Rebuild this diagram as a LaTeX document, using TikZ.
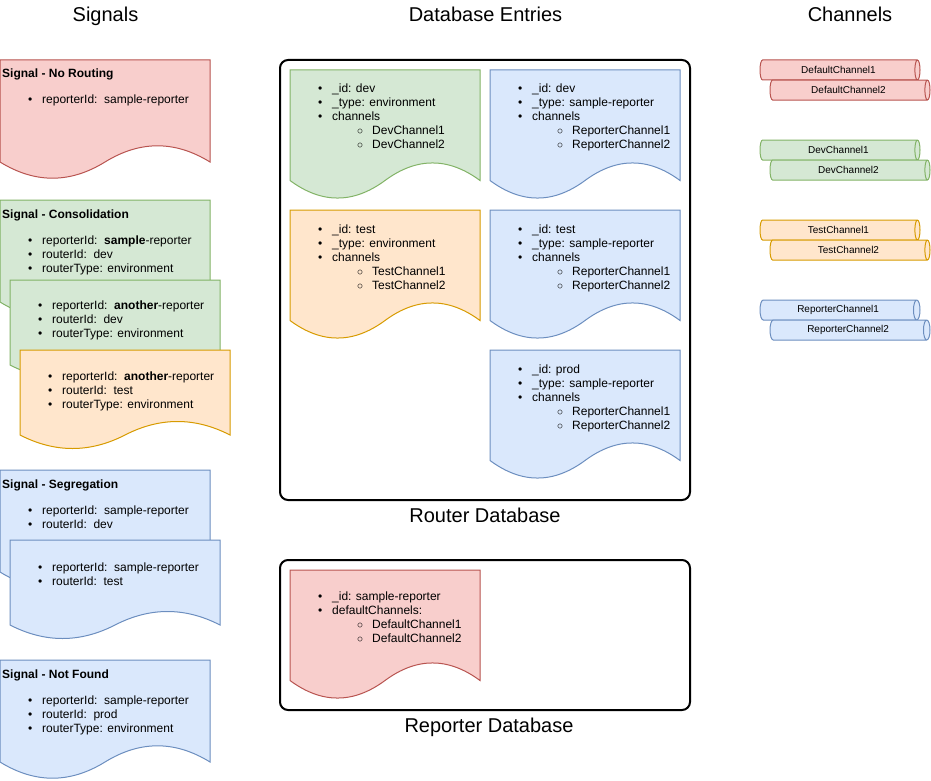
\documentclass[tikz,border=0pt]{standalone}
\usepackage{fontspec}
\setmainfont{Liberation Sans}
\usetikzlibrary{positioning,shapes.geometric}

\definecolor{redfill}{HTML}{F8CECC}
\definecolor{redline}{HTML}{B85450}
\definecolor{greenfill}{HTML}{D5E8D4}
\definecolor{greenline}{HTML}{82B366}
\definecolor{orangefill}{HTML}{FFE6CC}
\definecolor{orangeline}{HTML}{D79B00}
\definecolor{bluefill}{HTML}{DAE8FC}
\definecolor{blueline}{HTML}{6C8EBF}

\newcommand{\docshape}[5]{%
  \draw[#1, shift={(#2,#3)}, xscale=#4, yscale=#5] (0,0) -- (1,0) -- (1,0.85)
    .. controls (0.8333,0.67) and (0.6667,0.67) .. (0.5,0.85)
    .. controls (0.3333,1.03) and (0.1667,1.03) .. (0,0.85) -- cycle;}
\newcommand{\bul}{\makebox[14pt][l]{\textbullet}}
\newcommand{\subbul}{\hspace{39pt}\makebox[15pt][l]{$\circ$}}
\newcommand{\lines}[1]{\begin{tabular}[t]{@{}l@{}}#1\end{tabular}}

\begin{document}
\begin{tikzpicture}[
x=1pt, y=-1pt,
txt/.style={anchor=base west, inner sep=0pt, font=\fontsize{12}{14}\selectfont},
ttl/.style={txt, font=\fontsize{12}{14}\selectfont\bfseries},
head/.style={anchor=base, inner sep=0pt, font=\fontsize{20}{24}\selectfont},
reddoc/.style={draw=redline, fill=redfill, line width=1pt},
greendoc/.style={draw=greenline, fill=greenfill, line width=1pt},
orangedoc/.style={draw=orangeline, fill=orangefill, line width=1pt},
bluedoc/.style={draw=blueline, fill=bluefill, line width=1pt},
database/.style={draw, line width=2pt, rounded corners=8pt, minimum width=410pt, inner sep=0pt, outer sep=0pt},
channel/.style={cylinder, aspect=0.7, minimum height=160pt, minimum width=20pt, inner sep=0pt, outer sep=0pt, line width=1pt, font=\fontsize{10}{12}\selectfont},
redchan/.style={channel, draw=redline, fill=redfill},
greenchan/.style={channel, draw=greenline, fill=greenfill},
orangechan/.style={channel, draw=orangeline, fill=orangefill},
bluechan/.style={channel, draw=blueline, fill=bluefill},
]

\useasboundingbox (0,0) rectangle (931,781);

\node[head] (sighead) at (105.5,22) {Signals};
\node[head] (dbhead) at (485.5,22) {Database Entries};
\node[head] (chanhead) at (850,22) {Channels};

\docshape{reddoc}{0}{60}{210}{120}
\node[ttl] (routtl) at (2,78) {Signal - No Routing};
\node[txt] (roulst) at (28,104) {\lines{\bul reporterId:\ \ sample-reporter}};

\docshape{greendoc}{0}{200}{210}{120}
\node[ttl] (conttl) at (2,218) {Signal - Consolidation};
\node[txt] (conlsta) at (28,244) {\lines{\bul reporterId:\ \ \textbf{sample}-reporter\\ \bul routerId:\ \ dev\\ \bul routerType: environment}};
\docshape{greendoc}{10}{280}{210}{100}
\node[txt] (conlstb) at (38,309) {\lines{\bul reporterId:\ \ \textbf{another}-reporter\\ \bul routerId:\ \ dev\\ \bul routerType: environment}};
\docshape{orangedoc}{20}{350}{210}{100}
\node[txt] (conlstc) at (48,380) {\lines{\bul reporterId:\ \ \textbf{another}-reporter\\ \bul routerId:\ \ test\\ \bul routerType: environment}};

\docshape{bluedoc}{0}{470}{210}{120}
\node[ttl] (segttl) at (2,488) {Signal - Segregation};
\node[txt] (seglsta) at (28,514) {\lines{\bul reporterId:\ \ sample-reporter\\ \bul routerId:\ \ dev}};
\docshape{bluedoc}{10}{540}{210}{100}
\node[txt] (seglstb) at (38,571) {\lines{\bul reporterId:\ \ sample-reporter\\ \bul routerId:\ \ test}};

\docshape{bluedoc}{0}{660}{210}{120}
\node[ttl] (nfttl) at (2,678) {Signal - Not Found};
\node[txt] (nflst) at (28,704) {\lines{\bul reporterId:\ \ sample-reporter\\ \bul routerId:\ \ prod\\ \bul routerType: environment}};

\node[database, minimum height=440pt, anchor=north west] (routerdb) at (280,60) {};
\node[head] (routerlbl) [below=8pt of routerdb] {Router Database};
\node[database, minimum height=150pt, anchor=north west] (reporterdb) at (280,560) {};
\node[head] (reporterlbl) [below=8pt of reporterdb, xshift=4pt] {Reporter Database};

\docshape{greendoc}{290}{70}{190}{130}
\node[txt] (devenv) at (318,93) {\lines{\bul \_id: dev\\ \bul \_type: environment\\ \bul channels\\ \subbul DevChannel1\\ \subbul DevChannel2}};
\docshape{bluedoc}{490}{70}{190}{130}
\node[txt] (devrep) at (518,93) {\lines{\bul \_id: dev\\ \bul \_type: sample-reporter\\ \bul channels\\ \subbul ReporterChannel1\\ \subbul ReporterChannel2}};
\docshape{orangedoc}{290}{210}{190}{130}
\node[txt] (testenv) at (318,233) {\lines{\bul \_id: test\\ \bul \_type: environment\\ \bul channels\\ \subbul TestChannel1\\ \subbul TestChannel2}};
\docshape{bluedoc}{490}{210}{190}{130}
\node[txt] (testrep) at (518,233) {\lines{\bul \_id: test\\ \bul \_type: sample-reporter\\ \bul channels\\ \subbul ReporterChannel1\\ \subbul ReporterChannel2}};
\docshape{bluedoc}{490}{350}{190}{130}
\node[txt] (prodrep) at (518,373) {\lines{\bul \_id: prod\\ \bul \_type: sample-reporter\\ \bul channels\\ \subbul ReporterChannel1\\ \subbul ReporterChannel2}};
\docshape{reddoc}{290}{570}{190}{130}
\node[txt] (samplerep) at (318,600) {\lines{\bul \_id: sample-reporter\\ \bul defaultChannels:\\ \subbul DefaultChannel1\\ \subbul DefaultChannel2}};

\node[redchan, anchor=west] (defch1) at (760,70) {DefaultChannel1};
\node[redchan] (defch2) [below=0pt of defch1, xshift=10pt] {DefaultChannel2};
\node[greenchan, anchor=west] (devch1) at (760,150) {DevChannel1};
\node[greenchan] (devch2) [below=0pt of devch1, xshift=10pt] {DevChannel2};
\node[orangechan, anchor=west] (testch1) at (760,230) {TestChannel1};
\node[orangechan] (testch2) [below=0pt of testch1, xshift=10pt] {TestChannel2};
\node[bluechan, anchor=west] (repch1) at (760,310) {ReporterChannel1};
\node[bluechan] (repch2) [below=0pt of repch1, xshift=10pt] {ReporterChannel2};

\end{tikzpicture}
\end{document}
